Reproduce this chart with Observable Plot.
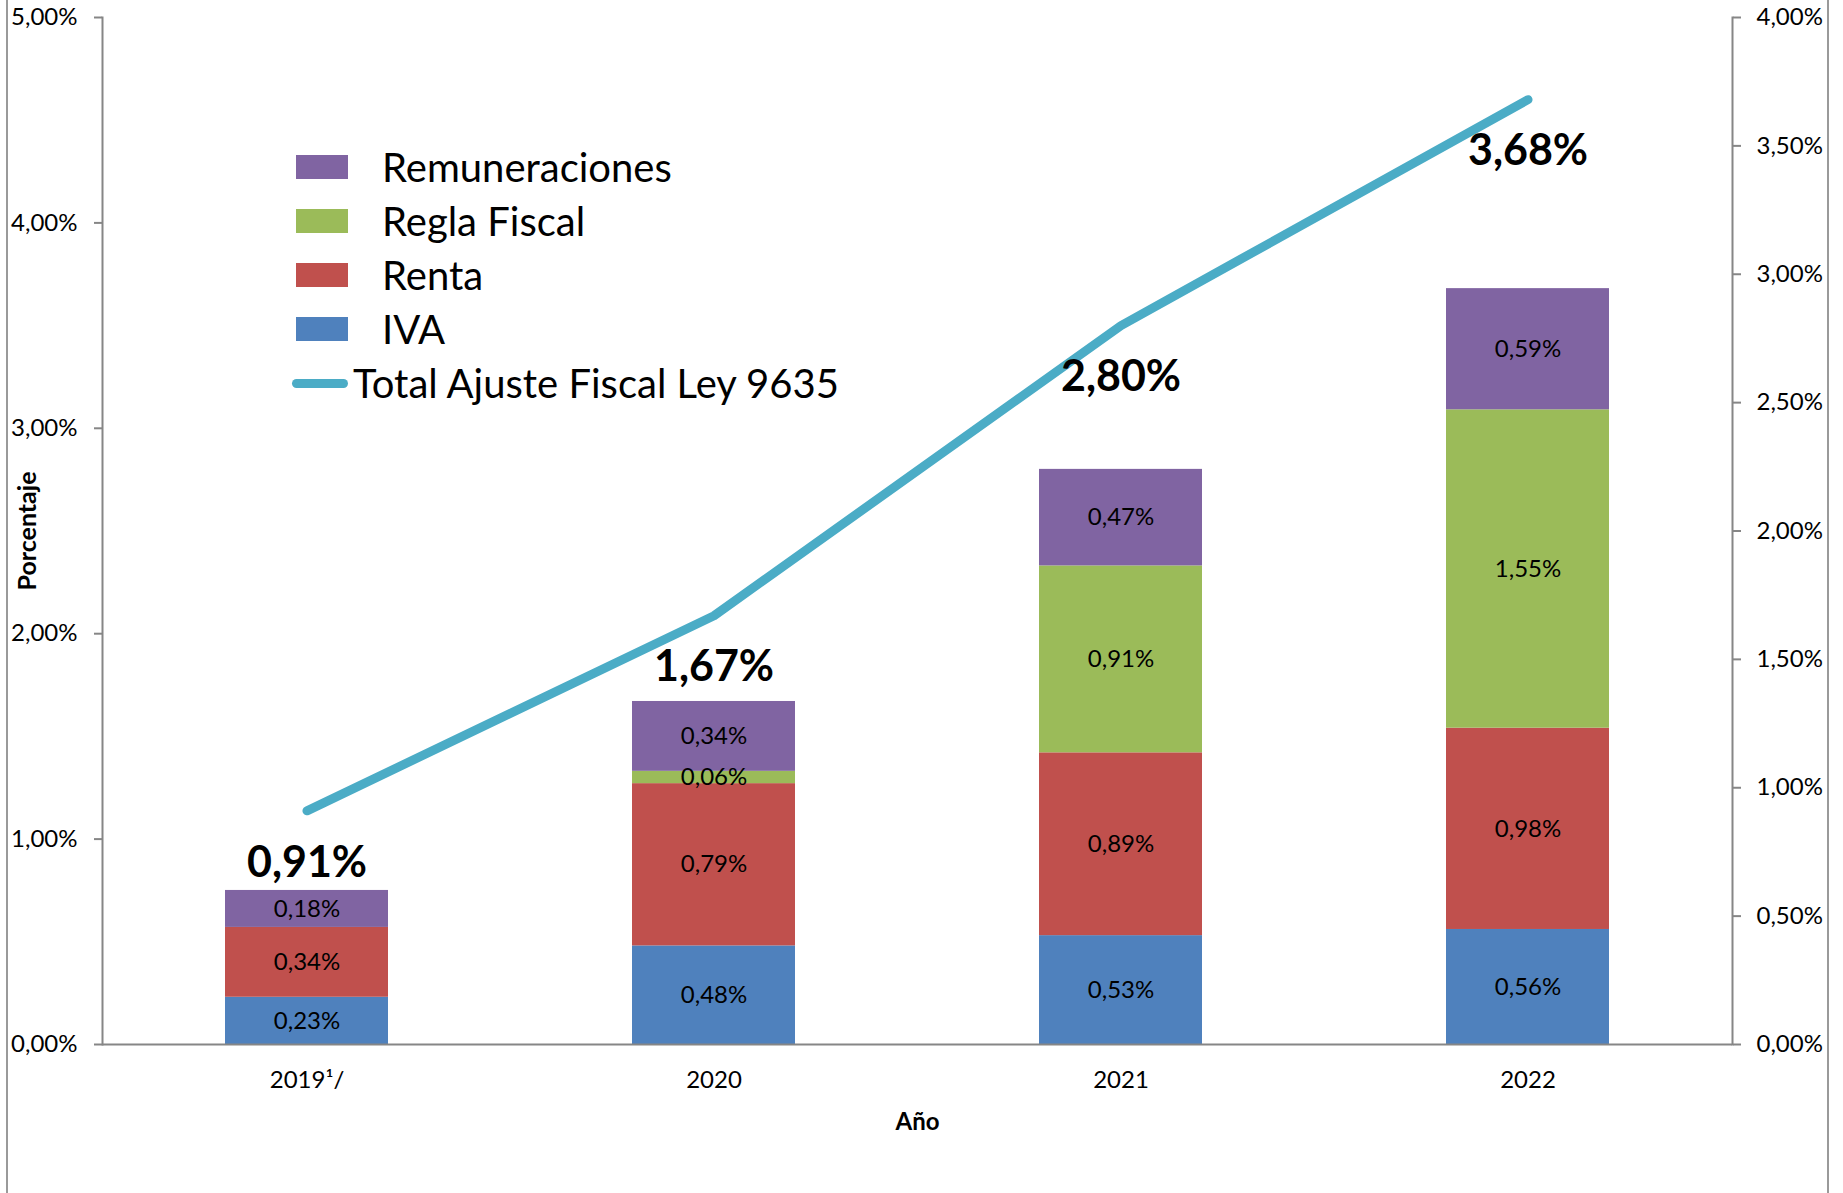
<!DOCTYPE html>
<html>
<head>
<meta charset="utf-8">
<script src="https://cdn.jsdelivr.net/npm/d3@7"></script>
<script src="https://cdn.jsdelivr.net/npm/@observablehq/plot@0.6"></script>
<style>
  html, body { margin: 0; padding: 0; background: #fff; overflow: hidden; }
  #wrap { position: relative; width: 1843px; height: 1193px; font-family: Lato, "Noto Sans", sans-serif; }
  #wrap svg { position: absolute; left: 0; top: 0; }
  .border { position: absolute; top: 0; width: 0; height: 1193px; border-left: 2px solid #9a9a9a; }
  #legend { position: absolute; left: 0; top: 0; }
  .li { position: absolute; display: flex; align-items: center; font-size: 40px; color: #000; white-space: nowrap; }
  .sw { width: 52px; height: 24px; margin-right: 34px; }
  .ln { width: 56px; height: 9px; border-radius: 5px; margin-right: 5px; }
</style>
</head>
<body>
<div id="wrap">
  <div class="border" style="left:6px"></div>
  <div class="border" style="left:1827px"></div>
  <div id="chart"></div>
  <div id="legend"></div>
</div>
<script>
// ---- data ----
const years = ["2019¹/", "2020", "2021", "2022"];
const series = ["IVA", "Renta", "Regla Fiscal", "Remuneraciones"];
const iva = [0.23, 0.48, 0.53, 0.56];
const renta = [0.34, 0.79, 0.89, 0.98];
const reglaFiscal = [null, 0.06, 0.91, 1.55];
const remuneraciones = [0.18, 0.34, 0.47, 0.59];
const totalAjuste = [0.91, 1.67, 2.80, 3.68];
const leftTicks = [0, 1, 2, 3, 4, 5];
const rightTicks = [0, 0.5, 1, 1.5, 2, 2.5, 3, 3.5, 4];
const colors = ["#4F81BD", "#C0504D", "#9BBB59", "#8064A2"];
const lineColor = "#4BACC6";
const lineName = "Total Ajuste Fiscal Ley 9635";

// right axis 0–4% shares the same vertical extent as left axis 0–5%
const ratio = 5 / 4;
const fmt = v => v.toFixed(2).replace(".", ",") + "%";

const valuesBySeries = [iva, renta, reglaFiscal, remuneraciones];
const rows = [];
years.forEach((yr, i) => {
  series.forEach((s, j) => {
    const v = valuesBySeries[j][i];
    if (v != null) rows.push({year: yr, series: s, value: v});
  });
});
const totals = years.map((yr, i) => ({year: yr, total: totalAjuste[i]}));

const axisColor = "#868686";

const chart = Plot.plot({
  width: 1843,
  height: 1193,
  marginLeft: 102,
  marginRight: 111,
  marginTop: 17,
  marginBottom: 149,
  style: {fontFamily: "Lato, 'Noto Sans', sans-serif", fontSize: "24px", color: "#000", background: "transparent"},
  x: {type: "band", domain: years, paddingInner: 0.6, paddingOuter: 0.3},
  y: {domain: [0, 5]},
  color: {domain: series, range: colors},
  marks: [
    Plot.barY(rows, {x: "year", y: "value", fill: "series"}),
    Plot.text(rows, Plot.stackY({x: "year", y: "value", z: "series", text: d => fmt(d.value), fill: "#000", fontSize: 24})),
    Plot.line(totals, {x: "year", y: d => d.total * ratio, stroke: lineColor, strokeWidth: 9, strokeLinecap: "round", strokeLinejoin: "round"}),
    Plot.text(totals, {x: "year", y: d => d.total * ratio, text: d => fmt(d.total), dy: 52, fontSize: 43, fontWeight: "bold", fill: "#000"}),
    Plot.frame({anchor: "left", stroke: axisColor, strokeWidth: 2}),
    Plot.frame({anchor: "right", stroke: axisColor, strokeWidth: 2}),
    Plot.ruleY([0], {stroke: axisColor, strokeWidth: 2}),
    Plot.axisY(leftTicks, {anchor: "left", tickFormat: fmt, tickSize: 8, tickPadding: 17, stroke: axisColor, strokeWidth: 2, fill: "#000", fontSize: 24,
      label: "Porcentaje", labelAnchor: "center", labelOffset: 84, labelArrow: "none"}),
    Plot.axisY(rightTicks.map(t => t * ratio), {anchor: "right", tickFormat: d => fmt(d / ratio), tickSize: 8, tickPadding: 16, stroke: axisColor, strokeWidth: 2, fill: "#000", fontSize: 24, label: null}),
    Plot.axisX({anchor: "bottom", tickSize: 0, tickPadding: 26, fontSize: 24, fill: "#000",
      label: "Año", labelAnchor: "center", labelOffset: 85, labelArrow: "none"})
  ]
});
document.getElementById("chart").appendChild(chart);

// bold axis titles
chart.querySelectorAll("[aria-label='y-axis label'] text, [aria-label='x-axis label'] text").forEach(t => {
  t.setAttribute("font-weight", "bold");
});
chart.querySelectorAll("[aria-label='y-axis label'] text").forEach(t => t.setAttribute("font-size", 25));

// legend (inside plot area, top-left)
const legend = document.getElementById("legend");
const legendItems = [...series].reverse().map(s => ({name: s, color: colors[series.indexOf(s)]}));
legendItems.forEach((it, k) => {
  const d = document.createElement("div");
  d.className = "li";
  d.style.left = "296px";
  d.style.top = (167 + k * 54 - 22) + "px";
  d.style.height = "44px";
  d.innerHTML = `<div class="sw" style="background:${it.color}"></div><span>${it.name}</span>`;
  legend.appendChild(d);
});
const dl = document.createElement("div");
dl.className = "li";
dl.style.left = "292px";
dl.style.top = (383 - 22) + "px";
dl.style.height = "44px";
dl.innerHTML = `<div class="ln" style="background:${lineColor}"></div><span>${lineName}</span>`;
legend.appendChild(dl);
</script>
</body>
</html>
